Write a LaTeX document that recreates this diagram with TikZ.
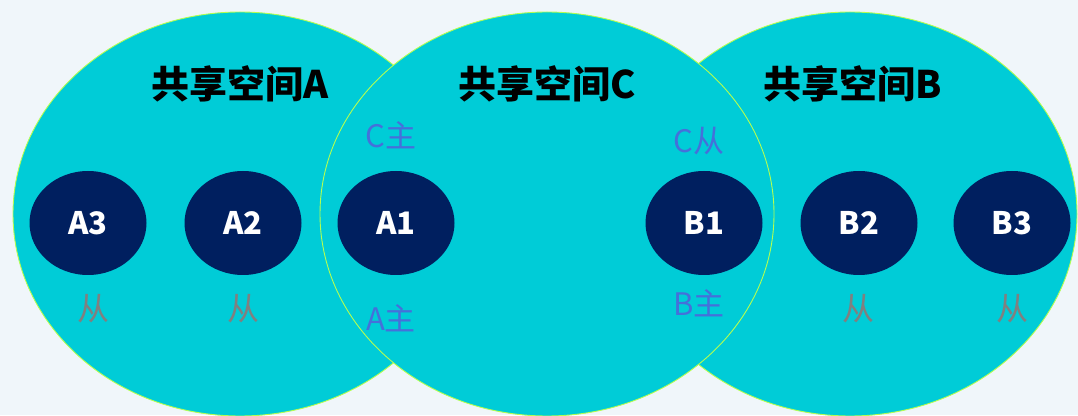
\documentclass[tikz,border=0pt]{standalone}
\usepackage{fontspec}
\setmainfont{Noto Sans CJK SC}
\usetikzlibrary{shapes.geometric}
\definecolor{bgc}{HTML}{F0F6FA}
\definecolor{cyanfill}{HTML}{00CCD7}
\definecolor{navy}{HTML}{001F5F}
\definecolor{rimc}{HTML}{B4FF50}
\definecolor{bluetxt}{HTML}{4570DA}
\definecolor{graytxt}{HTML}{808080}
\tikzset{
  space/.style={ellipse, draw=rimc, line width=0.9pt, fill=cyanfill, inner sep=0pt,
    minimum width=454pt, minimum height=404pt},
  member/.style={ellipse, fill=navy, inner sep=0pt, minimum width=117pt, minimum height=104pt,
    text=white, font=\fontsize{31}{32}\selectfont\bfseries},
  title/.style={font=\fontsize{38}{40}\selectfont\bfseries, text=black},
  rolec/.style={font=\fontsize{31}{32}\selectfont, text=bluetxt},
  slave/.style={font=\fontsize{32}{33}\selectfont, text=graytxt}
}
\begin{document}
\begin{tikzpicture}[x=1pt,y=1pt]
\fill[bgc] (0,0) rectangle (1078,415);
\useasboundingbox (0,0) rectangle (1078,415);
\node[space] (SA) at (240,201) {};
\node[space] (SB) at (850,201) {};
\node[space] (SC) at (547,201) {};
\node[title] (TA) at (240,331) {共享空间A};
\node[title] (TC) at (547,331) {共享空间C};
\node[title] (TB) at (853,331) {共享空间B};
\node[member] (A3) at (88,192) {A3};
\node[member] (A2) at (243,192) {A2};
\node[member] (A1) at (396,192) {A1};
\node[member] (B1) at (704,192) {B1};
\node[member] (B2) at (859,192) {B2};
\node[member] (B3) at (1012,192) {B3};
\node[rolec] (CM) at (391,280) {C主};
\node[rolec] (AM) at (391,97) {A主};
\node[rolec] (CS) at (699,274) {C从};
\node[rolec] (BM) at (699,112) {B主};
\node[slave] (S3) at (93,106) {从};
\node[slave] (S2) at (243,106) {从};
\node[slave] (S5) at (858,106) {从};
\node[slave] (S6) at (1012,106) {从};
\end{tikzpicture}
\end{document}
